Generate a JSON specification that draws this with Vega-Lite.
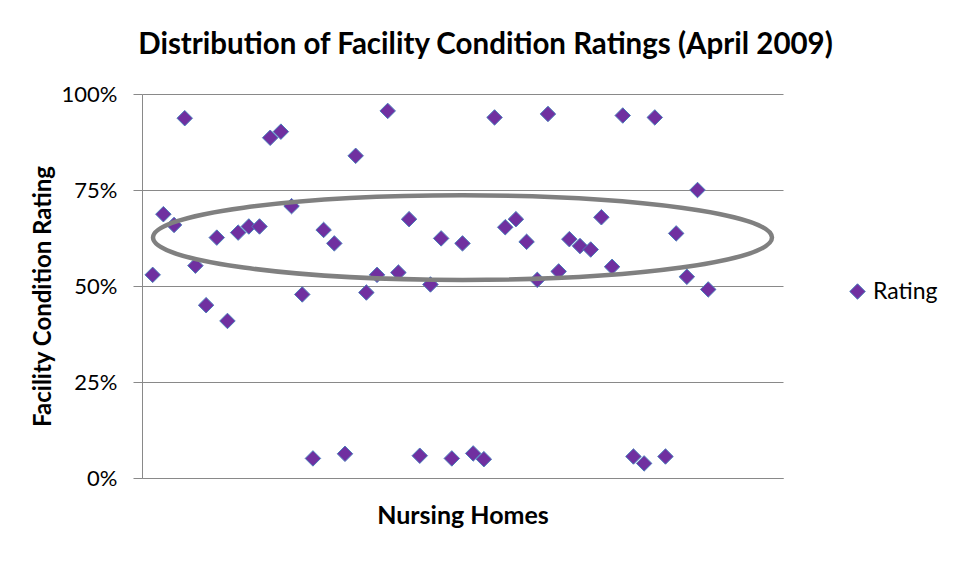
{
  "$schema": "https://vega.github.io/schema/vega-lite/v6.json",
  "width": 641,
  "height": 384,
  "autosize": {"type": "none"},
  "padding": {"left": 142, "top": 94, "right": 171, "bottom": 97},
  "background": "white",
  "config": {"view": {"stroke": null}},
  "title": {"text": "Distribution of Facility Condition Ratings (April 2009)", "font": "Lato", "fontSize": 29.5, "fontWeight": "bold", "color": "black", "anchor": "middle", "frame": "group", "dx": 23, "offset": 0, "baseline": "alphabetic"},
  "datasets": {
    "ratings": [
      {"home": 1, "rating": 0.529, "series": "Rating"},
      {"home": 2, "rating": 0.687, "series": "Rating"},
      {"home": 3, "rating": 0.659, "series": "Rating"},
      {"home": 4, "rating": 0.937, "series": "Rating"},
      {"home": 5, "rating": 0.553, "series": "Rating"},
      {"home": 6, "rating": 0.450, "series": "Rating"},
      {"home": 7, "rating": 0.626, "series": "Rating"},
      {"home": 8, "rating": 0.409, "series": "Rating"},
      {"home": 9, "rating": 0.639, "series": "Rating"},
      {"home": 10, "rating": 0.655, "series": "Rating"},
      {"home": 11, "rating": 0.655, "series": "Rating"},
      {"home": 12, "rating": 0.886, "series": "Rating"},
      {"home": 13, "rating": 0.902, "series": "Rating"},
      {"home": 14, "rating": 0.708, "series": "Rating"},
      {"home": 15, "rating": 0.478, "series": "Rating"},
      {"home": 16, "rating": 0.051, "series": "Rating"},
      {"home": 17, "rating": 0.646, "series": "Rating"},
      {"home": 18, "rating": 0.611, "series": "Rating"},
      {"home": 19, "rating": 0.063, "series": "Rating"},
      {"home": 20, "rating": 0.839, "series": "Rating"},
      {"home": 21, "rating": 0.483, "series": "Rating"},
      {"home": 22, "rating": 0.529, "series": "Rating"},
      {"home": 23, "rating": 0.956, "series": "Rating"},
      {"home": 24, "rating": 0.535, "series": "Rating"},
      {"home": 25, "rating": 0.674, "series": "Rating"},
      {"home": 26, "rating": 0.058, "series": "Rating"},
      {"home": 27, "rating": 0.504, "series": "Rating"},
      {"home": 28, "rating": 0.624, "series": "Rating"},
      {"home": 29, "rating": 0.051, "series": "Rating"},
      {"home": 30, "rating": 0.611, "series": "Rating"},
      {"home": 31, "rating": 0.064, "series": "Rating"},
      {"home": 32, "rating": 0.049, "series": "Rating"},
      {"home": 33, "rating": 0.939, "series": "Rating"},
      {"home": 34, "rating": 0.653, "series": "Rating"},
      {"home": 35, "rating": 0.674, "series": "Rating"},
      {"home": 36, "rating": 0.615, "series": "Rating"},
      {"home": 37, "rating": 0.516, "series": "Rating"},
      {"home": 38, "rating": 0.948, "series": "Rating"},
      {"home": 39, "rating": 0.538, "series": "Rating"},
      {"home": 40, "rating": 0.622, "series": "Rating"},
      {"home": 41, "rating": 0.604, "series": "Rating"},
      {"home": 42, "rating": 0.595, "series": "Rating"},
      {"home": 43, "rating": 0.679, "series": "Rating"},
      {"home": 44, "rating": 0.550, "series": "Rating"},
      {"home": 45, "rating": 0.944, "series": "Rating"},
      {"home": 46, "rating": 0.056, "series": "Rating"},
      {"home": 47, "rating": 0.038, "series": "Rating"},
      {"home": 48, "rating": 0.939, "series": "Rating"},
      {"home": 49, "rating": 0.056, "series": "Rating"},
      {"home": 50, "rating": 0.637, "series": "Rating"},
      {"home": 51, "rating": 0.524, "series": "Rating"},
      {"home": 52, "rating": 0.750, "series": "Rating"},
      {"home": 53, "rating": 0.491, "series": "Rating"}
    ],
    "ellipse": [{"home": 30, "rating": 0.626}]
  },
  "layer": [
    {
      "data": {"name": "ratings"},
      "mark": {"type": "point", "shape": "diamond", "filled": true, "size": 240, "stroke": "#4A7EBB", "strokeWidth": 1, "opacity": 1, "fillOpacity": 1},
      "encoding": {
        "x": {"field": "home", "type": "quantitative", "scale": {"domain": [0, 60], "nice": false, "zero": false},
          "axis": {"title": "Nursing Homes", "labels": false, "ticks": false, "grid": false, "domainColor": "#898989", "domainWidth": 1, "titleFont": "Lato", "titleFontSize": 25, "titleFontWeight": "bold", "titleColor": "black", "titleY": 45, "titleBaseline": "alphabetic"}},
        "y": {"field": "rating", "type": "quantitative", "scale": {"domain": [0, 1], "nice": false},
          "axis": {"values": [0, 0.25, 0.5, 0.75, 1], "format": ".0%", "grid": true, "gridColor": "#898989", "gridWidth": 1, "domainColor": "#898989", "tickColor": "#898989", "tickSize": 9, "labelFont": "Lato", "labelFontSize": 22, "labelColor": "black", "labelPadding": 16, "labelOverlap": false, "title": "Facility Condition Rating", "titleFont": "Lato", "titleFontSize": 24, "titleFontWeight": "bold", "titleColor": "black", "titleX": -92, "titleY": 202, "titleAngle": -90, "titleBaseline": "alphabetic", "titleAlign": "center"}},
        "fill": {"field": "series", "type": "nominal", "scale": {"range": ["#7030A0"]},
          "legend": {"title": null, "orient": "none", "legendX": 704, "legendY": 186, "symbolType": "diamond", "symbolSize": 240, "symbolStrokeColor": "#4A7EBB", "symbolStrokeWidth": 1, "symbolOpacity": 1, "labelFont": "Lato", "labelFontSize": 23, "labelColor": "black", "labelOffset": 4}}
      }
    },
    {
      "data": {"name": "ellipse"},
      "mark": {"type": "point", "shape": "M-1,0C-1,-0.0755,-0.5523,-0.1367,0,-0.1367C0.5523,-0.1367,1,-0.0755,1,0C1,0.0755,0.5523,0.1367,0,0.1367C-0.5523,0.1367,-1,0.0755,-1,0Z", "size": 383161, "filled": false, "stroke": "#808080", "strokeWidth": 4.5, "opacity": 1},
      "encoding": {
        "x": {"field": "home", "type": "quantitative"},
        "y": {"field": "rating", "type": "quantitative"}
      }
    }
  ]
}
